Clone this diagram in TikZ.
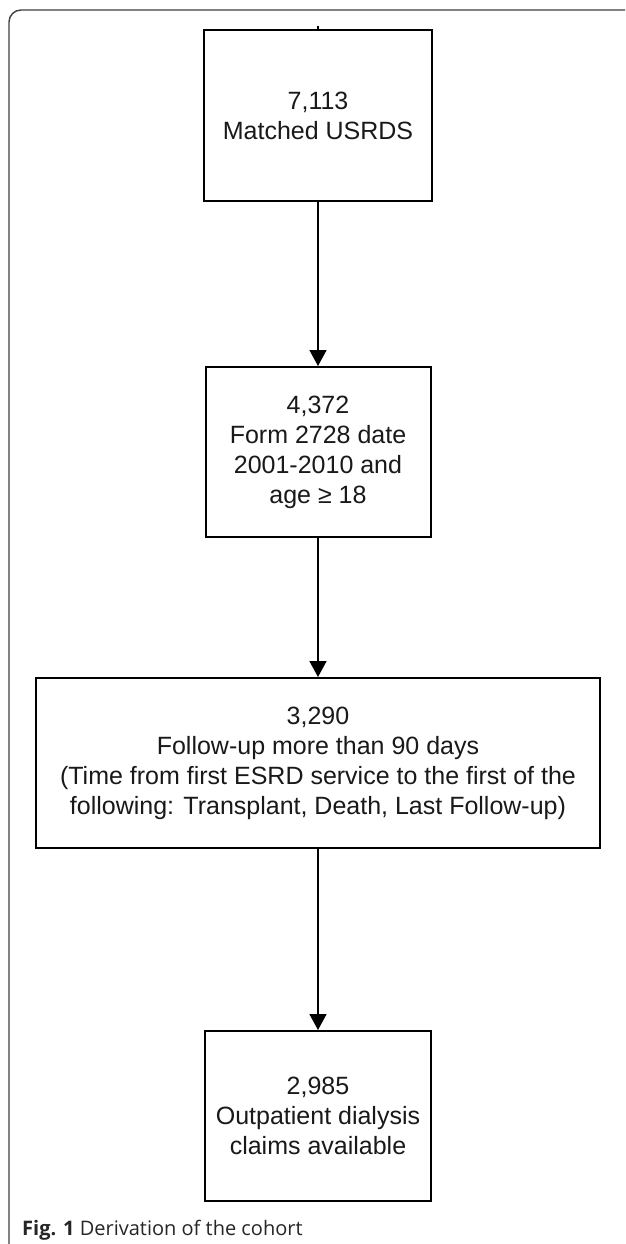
\documentclass[tikz,border=0pt]{standalone}
\usepackage{fontspec}
\setmainfont{Liberation Sans}
\newfontfamily\capfont{Open Sans}
\usetikzlibrary{arrows.meta}
\begin{document}
\begin{tikzpicture}[x=1pt,y=-1pt,
  flowbox/.style={draw=black, line width=2pt, align=center, inner sep=0pt,
    font=\fontsize{25}{30}\selectfont, text=black!90},
  flowarrow/.style={line width=1.6pt, -{Triangle[width=17pt,length=16pt]}},
  framestyle/.style={line width=1.4pt, rounded corners=12pt, draw=black!75}]
\useasboundingbox (0,0) rectangle (625,1244);
\fill[white] (0,0) rectangle (625,1244);
\begin{scope}
  \clip (0,0) rectangle (625,1244);
  \draw[framestyle] (9,1300) -- (9,10) -- (700,10);
\end{scope}
\node[flowbox, minimum width=228pt, minimum height=171pt] (b1) at (318,115.5) {7,113\\Matched USRDS};
\node[flowbox, minimum width=225pt, minimum height=170pt] (b2) at (318,452) {4,372\\Form 2728 date\\2001-2010 and\\age ≥ 18};
\node[flowbox, minimum width=564pt, minimum height=170pt] (b3) at (318,763) {3,290\\Follow-up more than 90 days\\(Time from first ESRD service to the first of the\\following: Transplant, Death, Last Follow-up)};
\node[flowbox, minimum width=226pt, minimum height=170pt] (b4) at (318,1116) {2,985\\Outpatient dialysis\\claims available};
\draw[line width=1.2pt] (b1.north) -- ++(0,-3);
\draw[flowarrow] (b1.south) -- (b2.north);
\draw[flowarrow] (b2.south) -- (b3.north);
\draw[flowarrow] (b3.south) -- (b4.north);
\node[anchor=base west, inner sep=0pt, font=\capfont\fontsize{20}{24}\selectfont, text=black!85] (cap) at (22,1235) {\textbf{Fig. 1} Derivation of the cohort};
\end{tikzpicture}
\end{document}
